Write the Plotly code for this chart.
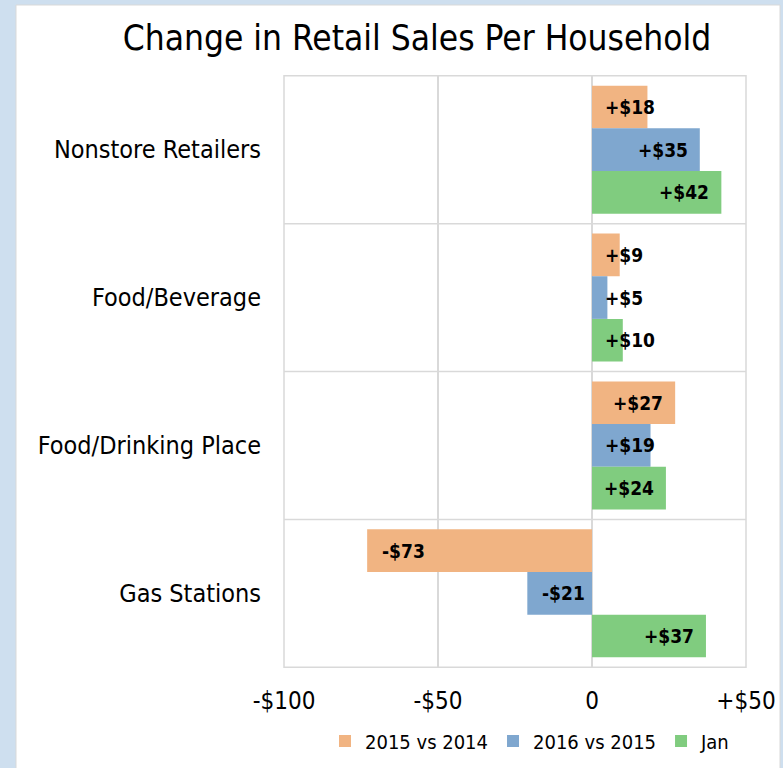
import plotly.graph_objects as go

categories = ["Nonstore Retailers", "Food/Beverage", "Food/Drinking Place", "Gas Stations"]
series_names = ["2015 vs 2014", "2016 vs 2015", "Jan"]
v2015 = [18, 9, 27, -73]
v2016 = [35, 5, 19, -21]
vjan = [42, 10, 24, 37]
tick_vals = [-100, -50, 0, 50]
tick_text = ["-$100", "-$50", "0", "+$50"]

colors = ["#F1B482", "#7FA7CF", "#80CC7F"]
FONT = "'DejaVu Sans Condensed', Tahoma, 'DejaVu Sans', sans-serif"

W, H = 783, 768
L, R, T, B = 284, 783 - 746, 75, 768 - 668
pw, ph = W - L - R, H - T - B
XMIN, XMAX = -100, 50
PX_PER_UNIT = pw / (XMAX - XMIN)


def fmt(v):
    return ("+$%d" % v) if v >= 0 else ("-$%d" % abs(v))


fig = go.Figure()
annotations = []
bar_px = ph / len(categories) * (1 - 0.135) / 3
shifts = [bar_px, 0, -bar_px]
for k, (name, vals, col) in enumerate(zip(series_names, [v2015, v2016, vjan], colors)):
    fig.add_trace(go.Bar(
        y=categories, x=vals, name=name, orientation="h",
        marker=dict(color=col, line=dict(width=0)),
        hoverinfo="x+y+name",
    ))
    for cat, v in zip(categories, vals):
        txt = fmt(v)
        w_est = 12.2 * len(txt)
        length = abs(v) * PX_PER_UNIT
        if v >= 0:
            if length - 10 - w_est >= 11:
                ax, anchor, xs = v, "right", -10
            else:
                ax, anchor, xs = 0, "left", 11
        else:
            ax, anchor, xs = v, "left", 13
        annotations.append(dict(
            x=ax, y=cat, xref="x", yref="y", text="<b>%s</b>" % txt,
            showarrow=False, xanchor=anchor, yanchor="middle",
            xshift=xs, yshift=shifts[k],
            font=dict(family=FONT, size=19, color="black"),
        ))

shapes = [
    dict(type="rect", xref="paper", yref="paper",
         x0=(16 - L) / pw, x1=(780 - L) / pw,
         y0=-(H + 20 - (T + ph)) / ph, y1=((T + ph) - 5) / ph,
         fillcolor="white", line=dict(color="#D9D9D9", width=1), layer="below"),
]
for i in range(len(categories) + 1):
    yv = i - 0.5
    shapes.append(dict(type="line", xref="paper", yref="y", x0=0, x1=1, y0=yv, y1=yv,
                       line=dict(color="#D9D9D9", width=1.5), layer="below"))
shapes.append(dict(type="line", xref="paper", yref="paper", x0=0, x1=0, y0=0, y1=1,
                   line=dict(color="#D9D9D9", width=1.5), layer="below"))
shapes.append(dict(type="line", xref="paper", yref="paper", x0=1, x1=1, y0=0, y1=1,
                   line=dict(color="#D9D9D9", width=1.5), layer="below"))

fig.update_layout(
    width=W, height=H, autosize=False,
    margin=dict(l=L, r=R, t=T, b=B, pad=0, autoexpand=False),
    paper_bgcolor="#CEDFEF", plot_bgcolor="rgba(0,0,0,0)",
    barmode="group", bargap=0.135, bargroupgap=0,
    title=dict(text="Change in Retail Sales Per Household", x=417 / W, xanchor="center",
               y=1 - 38 / H, yanchor="middle",
               font=dict(family=FONT, size=35, color="black")),
    font=dict(family=FONT, color="black"),
    xaxis=dict(range=[XMIN, XMAX], tickvals=tick_vals, ticktext=tick_text,
               showgrid=True, gridcolor="#D9D9D9", gridwidth=1.5, zeroline=False,
               showline=False, ticks="", ticklabelstandoff=16, automargin=False,
               tickfont=dict(family=FONT, size=24, color="black")),
    yaxis=dict(categoryorder="array", categoryarray=categories, autorange="reversed",
               showgrid=False, zeroline=False, showline=False, ticks="",
               ticklabelstandoff=22, automargin=False,
               tickfont=dict(family=FONT, size=25, color="black")),
    legend=dict(orientation="h", x=(530 - L) / pw, xanchor="center",
                y=-(741 - (T + ph)) / ph, yanchor="middle",
                font=dict(family=FONT, size=20, color="black"),
                itemwidth=30, traceorder="normal", bgcolor="rgba(0,0,0,0)"),
    shapes=shapes,
    annotations=annotations,
    showlegend=True,
)

fig.write_html("out.html", config={"displayModeBar": False},
               post_script="document.body.style.margin='0';")
